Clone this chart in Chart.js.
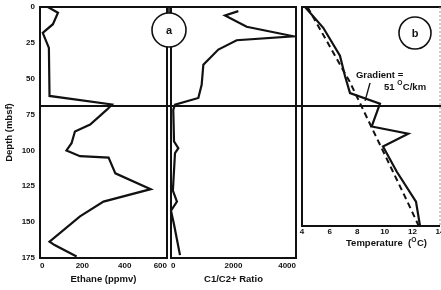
<!DOCTYPE html>
<html>
<head>
<meta charset="utf-8">
<script src="https://cdn.jsdelivr.net/npm/chart.js@4.4.1/dist/chart.umd.min.js"></script>
<style>
  html, body { margin: 0; padding: 0; background: #fff; }
  #wrap { position: relative; width: 441px; height: 290px; overflow: hidden; }
  #wrap canvas { position: absolute; left: 0; top: 0; }
</style>
</head>
<body>
<div id="wrap">
  <canvas id="ethane-canvas" width="441" height="290"></canvas>
  <canvas id="ratio-canvas" width="441" height="290"></canvas>
  <canvas id="temp-canvas" width="441" height="290"></canvas>
</div>
<script>
// ── data (depth in mbsf) ──
const ethaneDepth = [0, 4, 12, 18, 28.5, 62, 68, 71.6, 82, 86.8, 95, 100, 104, 105, 116, 127, 135.7, 146, 163.6, 166, 174];
const ethanePpmv  = [37, 85, 61, 13, 42, 45, 340, 316, 237, 165, 149, 125, 189, 324, 356, 523, 300, 189, 45, 69, 173];

const ratioDepth = [2.9, 5.9, 13.8, 20.4, 23.2, 29.7, 40.2, 54.2, 63.4, 68.1, 71.6, 93.7, 98.4, 101.8, 128, 135.7, 142, 152, 173];
const ratioC1C2  = [2155, 1728, 2422, 3914, 2101, 1515, 1035, 981, 875, 128, 73, 96, 234, 128, 60, 190, 0, 100, 288];

const tempDepth = [0, 14.5, 34, 48.3, 60, 67.4, 83.3, 88.4, 97.2, 114.7, 135.7, 152.5];
const tempC     = [4.22, 5.54, 6.75, 7.12, 7.48, 9.65, 9.05, 11.7, 9.87, 10.86, 12.26, 12.55];

// gradient fit (dashed)
const gradDepth = [0, 52, 97, 136, 152.5];
const gradC     = [4.4, 7.45, 9.7, 11.65, 12.45];

const boundaryDepth = 69;

// tick labels
const depthTicks  = [0, 25, 50, 75, 100, 125, 150, 175];
const ethaneTicks = [0, 200, 400, 600];
const ratioTicks  = [0, 2000, 4000];
const tempTicks   = [4, 6, 8, 10, 12, 14];

const FONT = '"Liberation Sans", Arial, sans-serif';
const INK = '#111';

Chart.defaults.font.family = FONT;
Chart.defaults.color = INK;

const pts = (vals, depths) => vals.map((v, i) => ({ x: v, y: depths[i] }));
const setTicks = arr => s => { s.ticks = arr.map(v => ({ value: v })); };
const noPad = s => { s.paddingTop = 0; s.paddingBottom = 0; s.paddingLeft = 0; s.paddingRight = 0; };
const plain = v => String(v);

const lineStyle = { borderColor: INK, borderWidth: 2.2, pointRadius: 0, tension: 0, fill: false };

const framePlugin = {
  id: 'frame',
  afterDraw(chart) {
    const { ctx, chartArea: a } = chart;
    ctx.save();
    ctx.strokeStyle = INK;
    ctx.lineWidth = 2;
    ctx.strokeRect(a.left, a.top, a.right - a.left, a.bottom - a.top);
    ctx.restore();
  }
};

function depthAxis(max, show) {
  return {
    type: 'linear', reverse: true, min: 0, max: max, display: show,
    afterBuildTicks: setTicks(depthTicks),
    ticks: { font: { size: 8, weight: 'bold' }, padding: 5, color: INK, callback: plain },
    grid: { display: false, drawTicks: false },
    border: { display: false },
    title: { display: show, text: 'Depth (mbsf)', font: { size: 9.5, weight: 'bold' }, color: INK, padding: { top: 4, bottom: 0 } },
    afterFit: s => { if (show) s.width = 40; else s.width = 0; noPad(s); }
  };
}

function valueAxis(min, max, ticks, title, align, height, pad) {
  return {
    type: 'linear', min: min, max: max,
    afterBuildTicks: setTicks(ticks),
    ticks: { font: { size: 8, weight: 'bold' }, padding: pad, color: INK, align: align, maxRotation: 0, autoSkip: false, callback: plain },
    grid: { display: false, drawTicks: false },
    border: { display: false },
    title: { display: !!title, text: title, font: { size: 9.5, weight: 'bold' }, color: INK, padding: { top: 0, bottom: 5 } },
    afterFit: s => { s.height = height; noPad(s); }
  };
}

// ── panel a: ethane ──
const ethaneChart = new Chart(document.getElementById('ethane-canvas').getContext('2d'), {
  type: 'line',
  data: { datasets: [{ ...lineStyle, data: pts(ethanePpmv, ethaneDepth) }] },
  options: {
    responsive: false, animation: false,
    layout: { padding: { left: 0, top: 7, right: 274, bottom: 0 } },
    plugins: { legend: { display: false }, tooltip: { enabled: false } },
    scales: {
      x: valueAxis(0, 600, ethaneTicks, 'Ethane (ppmv)', 'inner', 32, 3),
      y: depthAxis(175, true)
    }
  },
  plugins: [framePlugin]
});

// ── panel a (right): C1/C2+ ratio ──
const ratioChart = new Chart(document.getElementById('ratio-canvas').getContext('2d'), {
  type: 'line',
  data: { datasets: [{ ...lineStyle, data: pts(ratioC1C2, ratioDepth) }] },
  options: {
    responsive: false, animation: false,
    layout: { padding: { left: 171, top: 7, right: 145, bottom: 0 } },
    plugins: { legend: { display: false }, tooltip: { enabled: false } },
    scales: {
      x: valueAxis(0, 4000, ratioTicks, 'C1/C2+ Ratio', 'inner', 32, 3),
      y: depthAxis(175, false)
    }
  },
  plugins: [framePlugin]
});

// text with a superscript "O" used as degree mark
function drawDegText(ctx, x, y, before, after, size) {
  ctx.font = `bold ${size}px ${FONT}`;
  ctx.textAlign = 'left';
  ctx.textBaseline = 'middle';
  ctx.fillText(before, x, y);
  let cx = x + ctx.measureText(before).width;
  ctx.font = `bold ${size * 0.7}px ${FONT}`;
  ctx.fillText('O', cx, y - size * 0.35);
  cx += ctx.measureText('O').width + 0.5;
  ctx.font = `bold ${size}px ${FONT}`;
  ctx.fillText(after, cx, y);
}

function drawCircleLabel(ctx, cx, cy, r, txt) {
  ctx.beginPath();
  ctx.arc(cx, cy, r, 0, Math.PI * 2);
  ctx.fillStyle = '#fff';
  ctx.fill();
  ctx.lineWidth = 1.6;
  ctx.strokeStyle = INK;
  ctx.stroke();
  ctx.fillStyle = INK;
  ctx.font = `bold 11px ${FONT}`;
  ctx.textAlign = 'center';
  ctx.textBaseline = 'middle';
  ctx.fillText(txt, cx, cy + 0.5);
}

const overlayPlugin = {
  id: 'overlay',
  afterDraw(chart) {
    const { ctx, chartArea: a, scales: { x, y } } = chart;
    const ea = ethaneChart.chartArea, ra = ratioChart.chartArea;
    ctx.save();

    // temperature panel frame (right side faint)
    ctx.strokeStyle = INK;
    ctx.lineWidth = 2;
    ctx.beginPath();
    ctx.moveTo(441, a.top); ctx.lineTo(a.left, a.top); ctx.lineTo(a.left, a.bottom); ctx.lineTo(a.right, a.bottom);
    ctx.stroke();
    ctx.lineWidth = 1;
    ctx.strokeStyle = '#999';
    ctx.setLineDash([2, 2]);
    ctx.beginPath(); ctx.moveTo(a.right, a.top); ctx.lineTo(a.right, a.bottom); ctx.stroke();
    ctx.setLineDash([]);

    // boundary across every panel
    const by = y.getPixelForValue(boundaryDepth);
    ctx.strokeStyle = INK;
    ctx.lineWidth = 2;
    ctx.beginPath(); ctx.moveTo(ea.left, by); ctx.lineTo(441, by); ctx.stroke();

    // join of top borders + circle a
    const midX = (ea.right + ra.left) / 2;
    ctx.beginPath(); ctx.moveTo(ea.right, ea.top); ctx.lineTo(ra.left, ea.top); ctx.stroke();
    ctx.lineWidth = 1.6;
    ctx.beginPath(); ctx.moveTo(midX, ea.top); ctx.lineTo(midX, ea.top + 8); ctx.stroke();
    drawCircleLabel(ctx, midX, ea.top + 23, 17, 'a');
    drawCircleLabel(ctx, a.right - 25, a.top + 26, 16, 'b');

    // gradient label and leader
    ctx.fillStyle = INK;
    ctx.font = `bold 9.5px ${FONT}`;
    ctx.textAlign = 'left';
    ctx.textBaseline = 'middle';
    ctx.fillText('Gradient =', x.getPixelForValue(7.91), y.getPixelForValue(47.4));
    drawDegText(ctx, x.getPixelForValue(9.94), y.getPixelForValue(55.7), '51 ', 'C/km', 9.5);
    ctx.strokeStyle = INK;
    ctx.lineWidth = 1.4;
    ctx.beginPath();
    ctx.moveTo(x.getPixelForValue(8.93), y.getPixelForValue(52.9));
    ctx.lineTo(x.getPixelForValue(8.57), y.getPixelForValue(65.5));
    ctx.stroke();

    // axis title
    drawDegText(ctx, 346, 243, 'Temperature  (', 'C)', 9.5);
    ctx.restore();
  }
};

// ── panel b: temperature ──
const tempChart = new Chart(document.getElementById('temp-canvas').getContext('2d'), {
  type: 'line',
  data: {
    datasets: [
      { ...lineStyle, data: pts(tempC, tempDepth) },
      { ...lineStyle, borderWidth: 2, borderDash: [6, 4], data: pts(gradC, gradDepth) }
    ]
  },
  options: {
    responsive: false, animation: false,
    layout: { padding: { left: 302, top: 7, right: 1, bottom: 38 } },
    plugins: { legend: { display: false }, tooltip: { enabled: false } },
    scales: {
      x: valueAxis(4, 14, tempTicks, '', 'center', 26, 1),
      y: depthAxis(152.7, false)
    }
  },
  plugins: [overlayPlugin]
});
</script>
</body>
</html>
